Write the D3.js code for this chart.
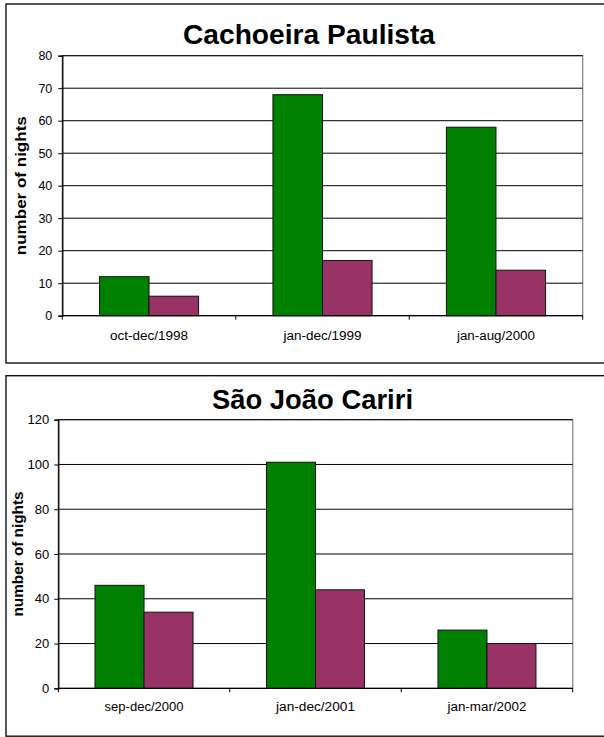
<!DOCTYPE html>
<html>
<head>
<meta charset="utf-8">
<script src="https://cdn.jsdelivr.net/npm/d3@7"></script>
<style>
  html, body { margin: 0; padding: 0; background: #fff; }
  svg { display: block; }
  text { font-family: Arial, "Liberation Sans", sans-serif; fill: #000; }
</style>
</head>
<body>
<svg id="chart" width="604" height="737"></svg>
<script>
// Nights counted per period at the two observing sites
const seriesKeys = ["a", "b"];

const cachoeiraPeriods = ["oct-dec/1998", "jan-dec/1999", "jan-aug/2000"];
const cachoeiraA = [12, 68, 58];
const cachoeiraB = [6, 17, 14];
const cachoeiraTicks = [0, 10, 20, 30, 40, 50, 60, 70, 80];

const caririPeriods = ["sep-dec/2000", "jan-dec/2001", "jan-mar/2002"];
const caririA = [46, 101, 26];
const caririB = [34, 44, 20];
const caririTicks = [0, 20, 40, 60, 80, 100, 120];

const svg = d3.select("#chart");
const fill = { a: "#008000", b: "#993366" };

function drawPanel(cfg) {
  const g = svg.append("g");

  // outer frame
  g.append("rect")
    .attr("x", cfg.frame.x).attr("y", cfg.frame.y)
    .attr("width", cfg.frame.w).attr("height", cfg.frame.h)
    .attr("fill", "#fff").attr("stroke", "#111").attr("stroke-width", 1.4);

  const { l, t, r, b } = cfg.plot;
  const maxTick = cfg.ticks[cfg.ticks.length - 1];
  const y = d3.scaleLinear().domain([0, maxTick]).range([b, t]);
  const x0 = d3.scaleBand().domain(cfg.periods).range([l, r]).padding(0);
  const x1 = d3.scaleBand().domain(seriesKeys).range([0, x0.bandwidth()])
    .paddingInner(0).paddingOuter(0.75);

  // plot area border
  g.append("rect")
    .attr("x", l).attr("y", t).attr("width", r - l).attr("height", b - t)
    .attr("fill", "none").attr("stroke", "#808080").attr("stroke-width", 1.2);

  // horizontal gridlines
  g.append("g").selectAll("line")
    .data(cfg.ticks.filter(v => v > 0))
    .join("line")
    .attr("x1", l).attr("x2", r)
    .attr("y1", d => y(d)).attr("y2", d => y(d))
    .attr("stroke", "#000").attr("stroke-width", 1);

  // bars
  const rows = cfg.periods.map((p, i) => ({ period: p, a: cfg.a[i], b: cfg.b[i] }));
  g.append("g").selectAll("g")
    .data(rows)
    .join("g")
    .attr("transform", d => `translate(${x0(d.period)},0)`)
    .selectAll("rect")
    .data(d => seriesKeys.map(k => ({ key: k, value: d[k] })))
    .join("rect")
    .attr("x", d => x1(d.key))
    .attr("y", d => y(d.value))
    .attr("width", x1.bandwidth())
    .attr("height", d => b - y(d.value))
    .attr("fill", d => fill[d.key])
    .attr("stroke", "#111").attr("stroke-width", 1);

  // y axis
  const yAxis = g.append("g")
    .attr("transform", `translate(${l},0)`)
    .call(d3.axisLeft(y).tickValues(cfg.ticks).tickSize(4).tickPadding(cfg.tickPad).tickFormat(d3.format("d")));
  yAxis.select(".domain").attr("stroke", "#000").attr("stroke-width", 1.3);
  yAxis.selectAll(".tick line").attr("stroke", "#000");
  yAxis.selectAll(".tick text")
    .attr("font-size", cfg.tickFont + "px")
    .attr("font-family", "Arial, 'Liberation Sans', sans-serif")
    .attr("fill", "#000");

  // x axis (category boundaries)
  const xAxis = g.append("g").attr("transform", `translate(0,${b})`);
  xAxis.append("line").attr("x1", l).attr("x2", r).attr("y1", 0).attr("y2", 0)
    .attr("stroke", "#000").attr("stroke-width", 1.3);
  const bounds = cfg.periods.map(p => x0(p)).concat([x0(cfg.periods[cfg.periods.length - 1]) + x0.bandwidth()]);
  xAxis.selectAll("line.tk").data(bounds).join("line").attr("class", "tk")
    .attr("x1", d => d).attr("x2", d => d).attr("y1", 0).attr("y2", 4)
    .attr("stroke", "#000").attr("stroke-width", 1);
  g.append("g").selectAll("text")
    .data(cfg.periods)
    .join("text")
    .attr("x", d => x0(d) + x0.bandwidth() / 2)
    .attr("y", cfg.catBaseline)
    .attr("text-anchor", "middle")
    .attr("font-size", "12px")
    .attr("textLength", cfg.catLen)
    .attr("lengthAdjust", "spacingAndGlyphs")
    .text(d => d);

  // y-axis title
  g.append("text")
    .attr("transform", `translate(${cfg.yTitleX},${(t + b) / 2}) rotate(-90)`)
    .attr("text-anchor", "middle")
    .attr("font-size", "14px")
    .attr("font-weight", "bold")
    .attr("textLength", cfg.yTitleLen)
    .attr("lengthAdjust", "spacingAndGlyphs")
    .text("number of nights");

  // chart title
  g.append("text")
    .attr("x", cfg.titleX).attr("y", cfg.titleY)
    .attr("text-anchor", "middle")
    .attr("font-size", "27px")
    .attr("font-weight", "bold")
    .attr("textLength", cfg.titleLen)
    .attr("lengthAdjust", "spacingAndGlyphs")
    .text(cfg.title);
}

drawPanel({
  title: "Cachoeira Paulista",
  periods: cachoeiraPeriods, a: cachoeiraA, b: cachoeiraB, ticks: cachoeiraTicks,
  frame: { x: 6, y: 4, w: 606, h: 359 },
  plot: { l: 62.3, t: 55.7, r: 582.7, b: 315.7 },
  titleX: 309, titleY: 44, titleLen: 252,
  yTitleX: 26, yTitleLen: 139,
  catBaseline: 339.5, catLen: 78,
  tickFont: 12.5, tickPad: 6
});

drawPanel({
  title: "São João Cariri",
  periods: caririPeriods, a: caririA, b: caririB, ticks: caririTicks,
  frame: { x: 6, y: 375.7, w: 606, h: 360.5 },
  plot: { l: 58.3, t: 419.7, r: 572.7, b: 688.3 },
  titleX: 312.5, titleY: 409.3, titleLen: 201,
  yTitleX: 23.3, yTitleLen: 125,
  catBaseline: 710.5, catLen: 79,
  tickFont: 13, tickPad: 5
});
</script>
</body>
</html>
